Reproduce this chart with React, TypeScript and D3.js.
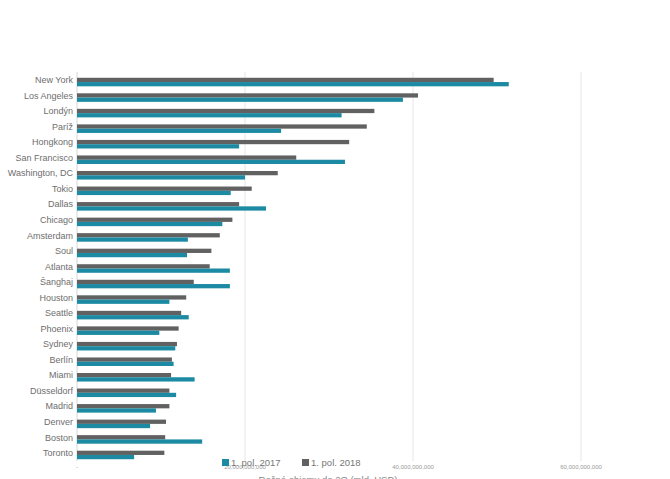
import React from "react";
import * as d3 from "d3";

const cities = [
  "New York", "Los Angeles", "Londýn", "Paríž", "Hongkong", "San Francisco",
  "Washington, DC", "Tokio", "Dallas", "Chicago", "Amsterdam", "Soul", "Atlanta",
  "Šanghaj", "Houston", "Seattle", "Phoenix", "Sydney", "Berlín", "Miami",
  "Düsseldorf", "Madrid", "Denver", "Boston", "Toronto",
];
// billions USD
const values2017 = [51.4, 38.8, 31.5, 24.3, 19.3, 31.9, 20.0, 18.3, 22.5, 17.3, 13.2, 13.1, 18.2,
  18.2, 11.0, 13.3, 9.8, 11.7, 11.5, 14.0, 11.8, 9.4, 8.7, 14.9, 6.8];
const values2018 = [49.6, 40.6, 35.4, 34.5, 32.4, 26.1, 23.9, 20.8, 19.3, 18.5, 17.0, 16.0, 15.8,
  13.9, 13.0, 12.4, 12.1, 11.9, 11.3, 11.2, 11.0, 11.0, 10.6, 10.5, 10.4];
const tickValues = [0, 20e9, 40e9, 60e9];
const tickLabels = ["-", "20,000,000,000", "40,000,000,000", "60,000,000,000"];
const seriesNames = ["1. pol. 2017", "1. pol. 2018"];
const seriesKeys = ["2018", "2017"];

const TEAL = "#1b8aa2";
const GRAY = "#616161";
const FONT = "'Liberation Sans', Arial, sans-serif";

export default function App() {
  const x = d3.scaleLinear().domain([0, 70e9]).range([77, 665]);
  const y = d3.scaleBand<string>().domain(cities).range([70, 467]).paddingInner(0.45).paddingOuter(0.5);
  const inner = d3.scaleBand<string>().domain(seriesKeys).range([0, y.bandwidth()]);
  const color: Record<string, string> = { "2017": TEAL, "2018": GRAY };
  const plotTop = 72;
  const plotBottom = 461;

  return (
    <svg width={670} height={479} style={{ position: "absolute", left: 0, top: 0, background: "#fff" }} fontFamily={FONT}>
      {tickValues.map((t, i) => (
        <line key={"g" + i} x1={x(t)} x2={x(t)} y1={plotTop} y2={plotBottom} stroke={i === 0 ? "#d6d6d6" : "#e6e6e6"} strokeWidth={1} />
      ))}
      {tickValues.map((t, i) => (
        <text key={"t" + i} x={x(t)} y={469} textAnchor="middle" fontSize={6} fill="#9a9a9a">{tickLabels[i]}</text>
      ))}
      {cities.map((c, i) => {
        const y0 = y(c)!;
        return (
          <g key={c}>
            <rect x={x(0)} y={y0 + inner("2018")!} width={x(values2018[i] * 1e9) - x(0)} height={inner.bandwidth()} fill={color["2018"]} />
            <rect x={x(0)} y={y0 + inner("2017")!} width={x(values2017[i] * 1e9) - x(0)} height={inner.bandwidth()} fill={color["2017"]} />
            <text x={73} y={y0 + y.bandwidth() / 2 - 2} dy="0.35em" textAnchor="end" fontSize={9} fill="#6e6e6e">{c}</text>
          </g>
        );
      })}
      <g>
        <rect x={222} y={459} width={7} height={7} fill={TEAL} />
        <text x={231} y={466} fontSize={9.5} fill="#777">{seriesNames[0]}</text>
        <rect x={302} y={459} width={7} height={7} fill={GRAY} />
        <text x={311} y={466} fontSize={9.5} fill="#777">{seriesNames[1]}</text>
      </g>
      <text x={328} y={483} textAnchor="middle" fontSize={9.5} fill="#888">Ročné objemy do 2Q (mld. USD)</text>
    </svg>
  );
}
